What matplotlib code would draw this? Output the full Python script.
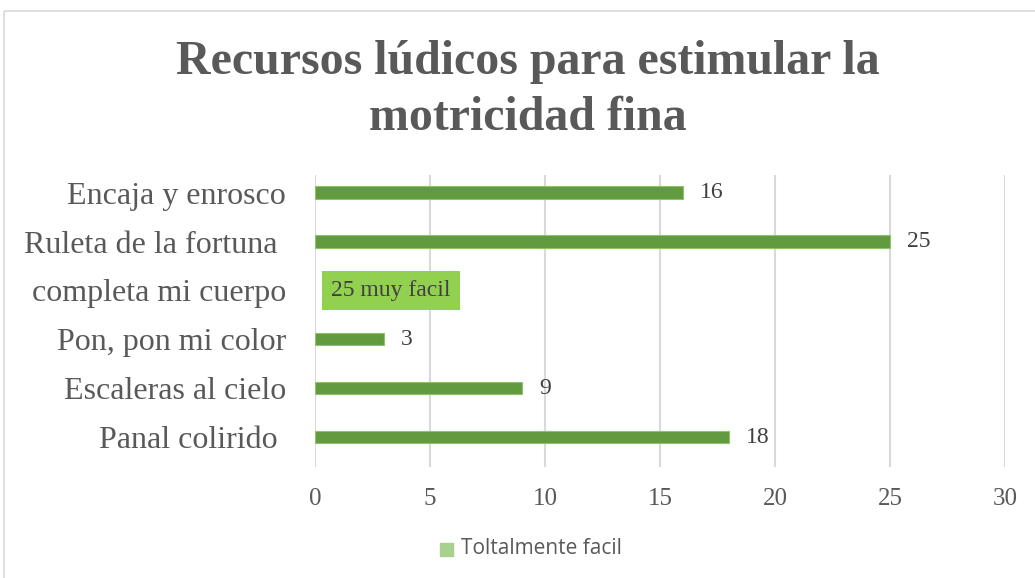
import matplotlib.pyplot as plt
from matplotlib.patches import Rectangle

# data (bottom to top)
categories = ['Panal colirido ', 'Escaleras al cielo', 'Pon, pon mi color',
              'completa mi cuerpo', 'Ruleta de la fortuna ', 'Encaja y enrosco']
values = [18, 9, 3, None, 25, 16]
special_label = '25 muy facil'
series_name = 'Toltalmente facil'

W, H = 1035, 578
fig = plt.figure(figsize=(W / 100, H / 100), dpi=100)

# outer chart border
fig.patches.append(Rectangle((4 / W, 1 - 11 / H), 1.2, -1.2, transform=fig.transFigure,
                             fill=False, edgecolor='#d9d9d9', lw=1.2))

ax = fig.add_axes([315 / W, 1 - 467 / H, 690 / W, 292 / H])

serif = 'Liberation Serif'
text_col = '#595959'
bar_col = '#629B3F'

ys = list(range(len(categories)))
for y, v in zip(ys, values):
    if v is None:
        ax.text(0.7, y, special_label, va='center', ha='left', fontsize=17,
                family=serif, color='#404040',
                bbox=dict(boxstyle='square,pad=0.38', fc='#92D050', ec='none'))
        continue
    ax.barh(y, v, height=0.25, color=bar_col, edgecolor='#8CC46A', lw=0.8)
    ax.text(v + 0.75, y, str(v), va='center', ha='left', fontsize=17,
            family=serif, color='#404040')

ax.set_xlim(0, 30)
ax.set_ylim(-0.61, 5.36)
ax.set_xticks(range(0, 31, 5))
ax.set_yticks(ys)
ax.set_yticklabels(categories, family=serif, fontsize=23, color=text_col)
for lab in ax.get_xticklabels():
    lab.set_family(serif)
    lab.set_fontsize(18)
    lab.set_color(text_col)
ax.tick_params(length=0)
ax.tick_params(axis='x', pad=15)
ax.tick_params(axis='y', pad=21)
ax.grid(axis='x', color='#d9d9d9', lw=1.5)
ax.set_axisbelow(True)
for s in ax.spines.values():
    s.set_visible(False)

fig.text(528 / W, 1 - 62 / H, 'Recursos lúdicos para estimular la', ha='center',
         va='center', family=serif, fontsize=34.5, fontweight='bold', color=text_col)
fig.text(528 / W, 1 - 118 / H, 'motricidad fina', ha='center',
         va='center', family=serif, fontsize=34.5, fontweight='bold', color=text_col)

# legend
fig.patches.append(Rectangle((440 / W, 1 - 556 / H), 13 / W, 13 / H,
                             transform=fig.transFigure, color='#A9D18E'))
fig.text(461 / W, 1 - 549 / H, series_name, ha='left', va='center',
         family='Open Sans', fontsize=15, color=text_col)

fig.savefig('out.png', dpi=100)
